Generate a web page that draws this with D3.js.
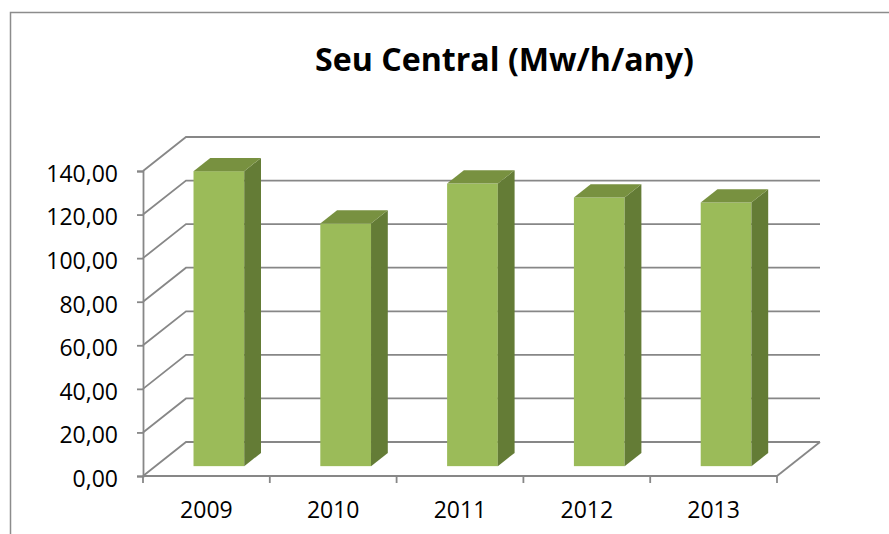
<!DOCTYPE html>
<html>
<head>
<meta charset="utf-8">
<script src="https://cdn.jsdelivr.net/npm/d3@7"></script>
<style>
  body { margin: 0; background: #fff; }
  text { font-family: "Open Sans", "Noto Sans", sans-serif; fill: #000; }
</style>
</head>
<body>
<div id="chart"></div>
<script>
// data
const years = ["2009", "2010", "2011", "2012", "2013"];
const values = [135.4, 111.4, 129.7, 123.3, 121.0];
const yTicks = [0, 20, 40, 60, 80, 100, 120, 140];
const title = "Seu Central (Mw/h/any)";

// sizing
const width = 889,
  height = 534;
const depth = { dx: 43, dy: -34 };      // floor depth offset
const barDepth = { f0: 0.29, f1: 0.68 }; // bar depth as fraction of floor

const svg = d3.select("#chart")
  .append("svg")
  .attr("width", width)
  .attr("height", height);

// outer border
svg.append("rect")
  .attr("x", 10.5).attr("y", 12.5)
  .attr("width", 920).attr("height", 560)
  .attr("fill", "none")
  .attr("stroke", "#8c8c8c")
  .attr("stroke-width", 1.5);

// scales (front plane)
const x = d3.scaleBand().domain(years).range([143, 777]);
const y = d3.scaleLinear().domain([0, 140]).range([476, 171]);

const gridColor = "#878787";
const grid = svg.append("g")
  .attr("fill", "none")
  .attr("stroke", gridColor)
  .attr("stroke-width", 1.8);

// gridlines: diagonal on the side wall + horizontal on the back wall
yTicks.forEach(t => {
  const y0 = y(t);
  grid.append("path")
    .attr("d", `M${x.range()[0]},${y0} L${x.range()[0] + depth.dx},${y0 + depth.dy} L${x.range()[1] + depth.dx},${y0 + depth.dy}`);
});

// floor right edge
grid.append("path")
  .attr("d", `M${x.range()[1]},${y(0)} L${x.range()[1] + depth.dx},${y(0) + depth.dy}`);

// y axis
const locale = d3.formatLocale({ decimal: ",", thousands: ".", grouping: [3], currency: ["", "€"] });
const fmt = locale.format(".2f");
const yAxis = svg.append("g")
  .attr("transform", `translate(${x.range()[0]},0)`)
  .call(d3.axisLeft(y).tickValues(yTicks).tickSize(6).tickPadding(19).tickFormat(fmt));
yAxis.selectAll("path, line").attr("stroke", gridColor).attr("stroke-width", 1.8);
yAxis.selectAll("text").attr("font-size", "23px").attr("font-family", null).attr("dy", "0.45em");

// x axis line + ticks at band boundaries
const xEdges = years.map(d => x(d)).concat([x.range()[1]]);
grid.append("line")
  .attr("x1", x.range()[0]).attr("x2", x.range()[1])
  .attr("y1", y(0)).attr("y2", y(0));
grid.selectAll(".xtick")
  .data(xEdges)
  .join("line")
  .attr("x1", d => d).attr("x2", d => d)
  .attr("y1", y(0)).attr("y2", y(0) + 7);

svg.selectAll(".xlabel")
  .data(years)
  .join("text")
  .attr("x", d => x(d) + x.bandwidth() / 2)
  .attr("y", 518)
  .attr("text-anchor", "middle")
  .attr("font-size", "23px")
  .text(d => d);

// bars
const bw = x.bandwidth() * 0.4;
const ox = depth.dx * barDepth.f0, oy = depth.dy * barDepth.f0;
const bdx = depth.dx * (barDepth.f1 - barDepth.f0), bdy = depth.dy * (barDepth.f1 - barDepth.f0);

const bars = svg.selectAll(".bar")
  .data(years.map((d, i) => ({ year: d, value: values[i] })))
  .join("g");

const geom = d => {
  const xl = x(d.year) + x.bandwidth() / 2 - bw / 2 + ox;
  const xr = xl + bw;
  const yb = y(0) + oy;
  const yt = y(d.value) + oy;
  return { xl, xr, yb, yt };
};

bars.append("rect")
  .attr("x", d => geom(d).xl)
  .attr("y", d => geom(d).yt)
  .attr("width", bw)
  .attr("height", d => geom(d).yb - geom(d).yt)
  .attr("fill", "#9bbb59");

bars.append("path")
  .attr("d", d => {
    const g = geom(d);
    return `M${g.xr},${g.yt} L${g.xr + bdx},${g.yt + bdy} L${g.xr + bdx},${g.yb + bdy} L${g.xr},${g.yb} Z`;
  })
  .attr("fill", "#647c36");

bars.append("path")
  .attr("d", d => {
    const g = geom(d);
    return `M${g.xl},${g.yt} L${g.xl + bdx},${g.yt + bdy} L${g.xr + bdx},${g.yt + bdy} L${g.xr},${g.yt} Z`;
  })
  .attr("fill", "#789140");

// title
const t = svg.append("text")
  .attr("x", 504.5)
  .attr("y", 71)
  .attr("text-anchor", "middle")
  .attr("font-weight", "bold")
  .attr("font-size", "24px")
  .text(title);
const tw = t.node().getComputedTextLength();
t.attr("font-size", (24 * 379 / tw).toFixed(2) + "px");
</script>
</body>
</html>
